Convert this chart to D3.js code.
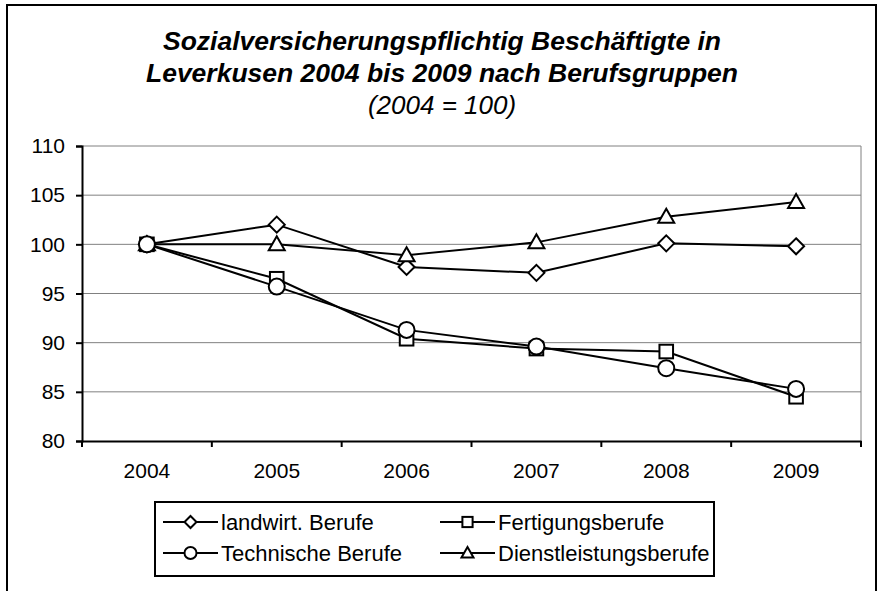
<!DOCTYPE html>
<html>
<head>
<meta charset="utf-8">
<script src="https://cdn.jsdelivr.net/npm/d3@7"></script>
<style>
  body { margin: 0; background: #fff; }
  svg { display: block; font-family: "Liberation Sans", Arial, sans-serif; }
</style>
</head>
<body>
<div id="chart"></div>
<script>
// data
var years = ["2004", "2005", "2006", "2007", "2008", "2009"];
var landwirt = [100, 102.0, 97.7, 97.1, 100.1, 99.8];
var fertigung = [100, 96.5, 90.4, 89.4, 89.1, 84.5];
var technisch = [100, 95.7, 91.3, 89.6, 87.4, 85.3];
var dienst = [100, 100, 98.9, 100.2, 102.8, 104.3];
var seriesNames = ["landwirt. Berufe", "Fertigungsberufe", "Technische Berufe", "Dienstleistungsberufe"];
var yTicks = [80, 85, 90, 95, 100, 105, 110];

var svgWidth = 883;
var svgHeight = 591;

var margin = { top: 146, right: 22, bottom: 150, left: 82 };
var plotWidth = svgWidth - margin.left - margin.right;
var plotHeight = svgHeight - margin.top - margin.bottom;

var svg = d3.select("#chart")
  .append("svg")
  .attr("width", svgWidth)
  .attr("height", svgHeight);

// outer chart border (bottom edge runs off the picture)
svg.append("rect")
  .attr("x", 7)
  .attr("y", 5)
  .attr("width", 869)
  .attr("height", 600)
  .attr("fill", "none")
  .attr("stroke", "black")
  .attr("stroke-width", 2);

// title
var title = svg.append("text")
  .attr("text-anchor", "middle")
  .attr("font-size", "26.5px")
  .attr("font-style", "italic")
  .attr("font-weight", "bold");
title.append("tspan").attr("x", 442).attr("y", 50).text("Sozialversicherungspflichtig Beschäftigte in");
title.append("tspan").attr("x", 442).attr("y", 82).text("Leverkusen 2004 bis 2009 nach Berufsgruppen");
svg.append("text")
  .attr("x", 442)
  .attr("y", 114)
  .attr("text-anchor", "middle")
  .attr("font-size", "26px")
  .attr("font-style", "italic")
  .text("(2004 = 100)");

var plot = svg.append("g")
  .attr("transform", `translate(${margin.left}, ${margin.top})`);

var xScale = d3.scaleBand()
  .domain(years)
  .range([0, plotWidth]);

var yScale = d3.scaleLinear()
  .domain([80, 110])
  .range([plotHeight, 0]);

var xPos = d => xScale(d) + xScale.bandwidth() / 2;

// gridlines
plot.append("g")
  .selectAll("line")
  .data(yTicks.slice(1))
  .enter()
  .append("line")
  .attr("x1", 0)
  .attr("x2", plotWidth)
  .attr("y1", d => yScale(d))
  .attr("y2", d => yScale(d))
  .attr("stroke", "#808080")
  .attr("stroke-width", 1);

// plot area border right
plot.append("line")
  .attr("x1", plotWidth).attr("x2", plotWidth)
  .attr("y1", 0).attr("y2", plotHeight)
  .attr("stroke", "#808080");

var yAxis = d3.axisLeft(yScale).tickValues(yTicks).tickSize(6).tickPadding(11);
var yG = plot.append("g").call(yAxis);
yG.select(".domain").attr("stroke-width", 2);
yG.selectAll(".tick line").attr("stroke-width", 2);
yG.selectAll("text").attr("font-size", "21px").attr("fill", "black").attr("font-family", "Liberation Sans, Arial, sans-serif");

// x axis: ticks between categories
var xAxis = d3.axisBottom(xScale).tickSize(0).tickPadding(22);
var xG = plot.append("g").attr("transform", `translate(0, ${plotHeight})`).call(xAxis);
xG.select(".domain").attr("stroke-width", 2);
xG.selectAll("text").attr("font-size", "21px").attr("fill", "black").attr("font-family", "Liberation Sans, Arial, sans-serif");
xG.selectAll(".sep")
  .data(d3.range(years.length + 1))
  .enter()
  .append("line")
  .attr("class", "sep")
  .attr("x1", i => i * xScale.step())
  .attr("x2", i => i * xScale.step())
  .attr("y1", 0)
  .attr("y2", 6)
  .attr("stroke", "black")
  .attr("stroke-width", 2);

var allSeries = [
  { name: seriesNames[0], values: landwirt, shape: "diamond" },
  { name: seriesNames[1], values: fertigung, shape: "square" },
  { name: seriesNames[2], values: technisch, shape: "circle" },
  { name: seriesNames[3], values: dienst, shape: "triangle" }
];

function marker(g, shape, s) {
  // s = half size of the marker
  if (shape === "diamond") {
    g.append("path").attr("d", `M0,${-s}L${s},0L0,${s}L${-s},0Z`);
  } else if (shape === "square") {
    g.append("rect").attr("x", -s * 0.85).attr("y", -s * 0.85).attr("width", s * 1.7).attr("height", s * 1.7);
  } else if (shape === "circle") {
    g.append("circle").attr("r", s);
  } else {
    g.append("path").attr("d", `M0,${-s}L${s},${s * 0.75}L${-s},${s * 0.75}Z`);
  }
  g.selectAll("*").attr("fill", "white").attr("stroke", "black").attr("stroke-width", 2);
}

var line = d3.line()
  .x((d, i) => xPos(years[i]))
  .y(d => yScale(d));

// draw order: later series on top
var drawOrder = [allSeries[0], allSeries[3], allSeries[1], allSeries[2]];
drawOrder.forEach(function(s) {
  plot.append("path")
    .datum(s.values)
    .attr("d", line)
    .attr("fill", "none")
    .attr("stroke", "black")
    .attr("stroke-width", 2);
});
drawOrder.forEach(function(s) {
  s.values.forEach(function(v, i) {
    var g = plot.append("g").attr("transform", `translate(${xPos(years[i])}, ${yScale(v)})`);
    marker(g, s.shape, 8);
  });
});

// legend
var legend = svg.append("g").attr("transform", "translate(155, 502)");
legend.append("rect")
  .attr("width", 559)
  .attr("height", 74)
  .attr("fill", "white")
  .attr("stroke", "black")
  .attr("stroke-width", 2);

allSeries.forEach(function(s, i) {
  var col = i % 2, row = Math.floor(i / 2);
  var item = legend.append("g").attr("transform", `translate(${8 + col * 277}, ${20 + row * 31})`);
  item.append("line").attr("x1", 0).attr("x2", 55).attr("y1", 0).attr("y2", 0)
    .attr("stroke", "black").attr("stroke-width", 2);
  var m = item.append("g").attr("transform", "translate(27.5, 0)");
  marker(m, s.shape, 6);
  item.append("text")
    .attr("x", 58)
    .attr("y", 8)
    .attr("font-size", "22px")
    .text(s.name);
});
</script>
</body>
</html>
